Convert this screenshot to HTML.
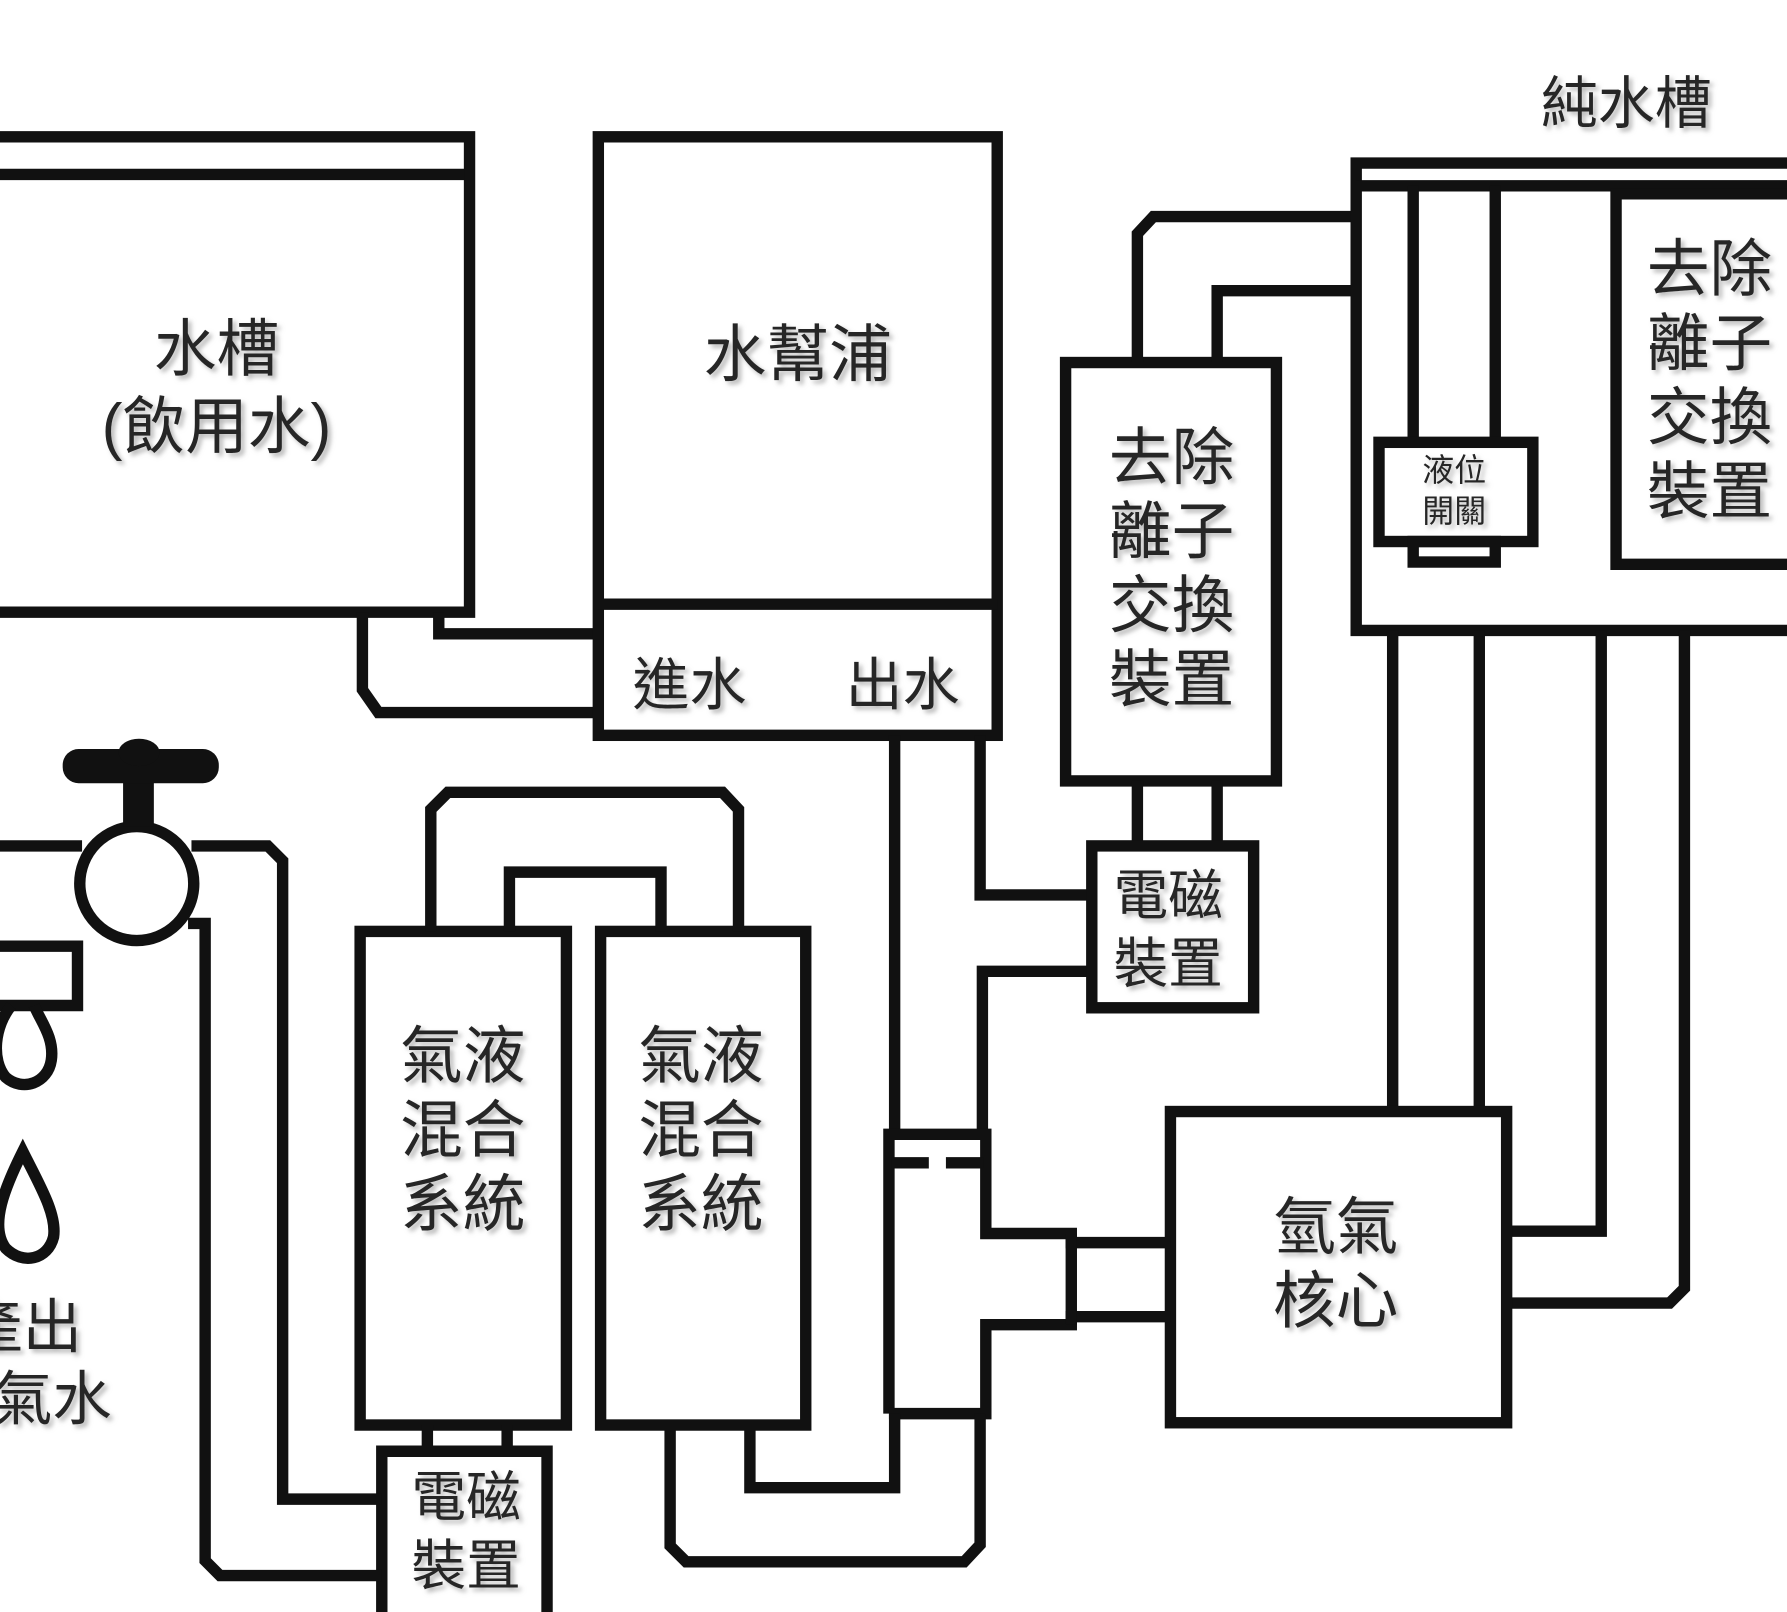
<!DOCTYPE html>
<html><head><meta charset="utf-8"><style>
html,body{margin:0;padding:0;background:#fff;}
svg{display:block;}
text{font-family:"Liberation Sans","Noto Sans CJK TC","Noto Sans CJK SC",sans-serif;fill:#262626;text-anchor:middle;}
</style></head><body>
<svg width="1787" height="1612" viewBox="0 0 1568 1414" preserveAspectRatio="none" xmlns="http://www.w3.org/2000/svg">
<defs><filter id="sh" x="-10%" y="-10%" width="130%" height="130%"><feDropShadow dx="3" dy="3" stdDeviation="2" flood-color="#888" flood-opacity="0.6"/></filter></defs>
<rect width="1568" height="1414" fill="#fff"/>
<g fill="none" stroke="#111" stroke-width="10" stroke-linejoin="miter">
<!-- water tank -->
<path d="M0 120 H412 V537 H0"/>
<path d="M0 153 H408"/>
<!-- tank to pump -->
<path d="M318 537 V605 L332 625 H525"/>
<path d="M385 537 V556 H525"/>
<!-- pump -->
<rect x="525" y="120" width="350" height="525"/>
<path d="M525 530 H875"/>
<!-- pump outlet pipes -->
<path d="M785 645 V995"/>
<path d="M860 645 V785 H958"/>
<path d="M958 852 H862 V995"/>
<!-- deion box -->
<rect x="935" y="318" width="185" height="367"/>
<path d="M998 318 V205 L1012 190 H1190"/>
<path d="M1068 318 V255 H1190"/>
<path d="M998 685 V742 M1068 685 V742"/>
<rect x="958" y="742" width="142" height="142"/>
<!-- pure tank -->
<path d="M1568 143 H1190 V553 H1568"/>
<path d="M1190 163 H1568"/>
<path d="M1568 170 H1418 V495 H1568"/>
<path d="M1240 163 V388 M1312 163 V388"/>
<rect x="1210" y="388" width="135" height="87"/>
<rect x="1240" y="475" width="72" height="18"/>
<!-- pure tank to core -->
<path d="M1222 553 V975 M1298 553 V975"/>
<path d="M1405 553 V1080 H1322"/>
<path d="M1478 553 V1130 L1465 1143 H1322"/>
<!-- core -->
<rect x="1027" y="975" width="295" height="273"/>
<!-- T connector -->
<path d="M780 1240 V995 H865 V1082 H940 V1090 H1027"/>
<path d="M780 1240 H865 V1162 H940 V1155 H1027"/>
<path d="M940 1082 V1162"/>
<path d="M782 1020 H815 M830 1020 H863"/>
<!-- bottom loop -->
<path d="M860 1240 V1355 L846 1370 H602 L588 1356 V1248"/>
<path d="M785 1240 V1305 H658 V1248"/>
<!-- gas-liquid boxes -->
<rect x="316" y="817" width="181" height="433"/>
<rect x="527" y="817" width="180" height="433"/>
<path d="M378 817 V710 L393 695 H634 L648 710 V817"/>
<path d="M447 817 V765 H580 V817"/>
<!-- bottom solenoid -->
<path d="M375 1250 V1273 M445 1250 V1273"/>
<path d="M335 1420 V1273 H480 V1420"/>
<!-- left pipes -->
<path d="M335 1315 H248 V755 L235 742 H168"/>
<path d="M335 1382 H193 L180 1369 V810 H165"/>
<!-- faucet -->
<circle cx="120" cy="775" r="50"/>
<path d="M0 742 H72"/>
<path d="M0 830 H68 V882 H0"/>
<path d="M10 882 C-5 900,-8 930,5 945 C20 958,42 950,45 930 C48 910,35 895,30 882"/>
<path d="M20 1010 C5 1040,-10 1075,5 1095 C20 1110,42 1105,47 1085 C50 1065,35 1040,20 1010 Z"/>
</g>
<!-- faucet handle -->
<rect x="108" y="670" width="27" height="55" fill="#111"/>
<rect x="55" y="657" width="137" height="30" rx="14" fill="#111"/>
<ellipse cx="122" cy="660" rx="18" ry="12" fill="#111"/>
<g filter="url(#sh)">
<text x="190" y="325" font-size="55">水槽</text>
<text x="190" y="393" font-size="55">(飲用水)</text>
<text x="700" y="330" font-size="55">水幫浦</text>
<text x="605" y="618" font-size="50">進水</text>
<text x="792" y="618" font-size="50">出水</text>
<text x="1028" y="420" font-size="55">去除</text>
<text x="1028" y="485" font-size="55">離子</text>
<text x="1028" y="550" font-size="55">交換</text>
<text x="1028" y="615" font-size="55">裝置</text>
<text x="1025" y="802" font-size="48">電磁</text>
<text x="1025" y="862" font-size="48">裝置</text>
<text x="1427" y="108" font-size="50">純水槽</text>
<text x="1500" y="255" font-size="55">去除</text>
<text x="1500" y="320" font-size="55">離子</text>
<text x="1500" y="385" font-size="55">交換</text>
<text x="1500" y="450" font-size="55">裝置</text>
<text x="1276" y="422" font-size="28">液位</text>
<text x="1276" y="458" font-size="28">開關</text>
<text x="1172" y="1095" font-size="55">氫氣</text>
<text x="1172" y="1160" font-size="55">核心</text>
<text x="406" y="945" font-size="55">氣液</text>
<text x="406" y="1010" font-size="55">混合</text>
<text x="406" y="1075" font-size="55">系統</text>
<text x="615" y="945" font-size="55">氣液</text>
<text x="615" y="1010" font-size="55">混合</text>
<text x="615" y="1075" font-size="55">系統</text>
<text x="409" y="1330" font-size="48">電磁</text>
<text x="409" y="1390" font-size="48">裝置</text>
<text x="20" y="1182" font-size="52">產出</text>
<text x="20" y="1245" font-size="52">氫氣水</text>
</g>
</svg>
</body></html>
